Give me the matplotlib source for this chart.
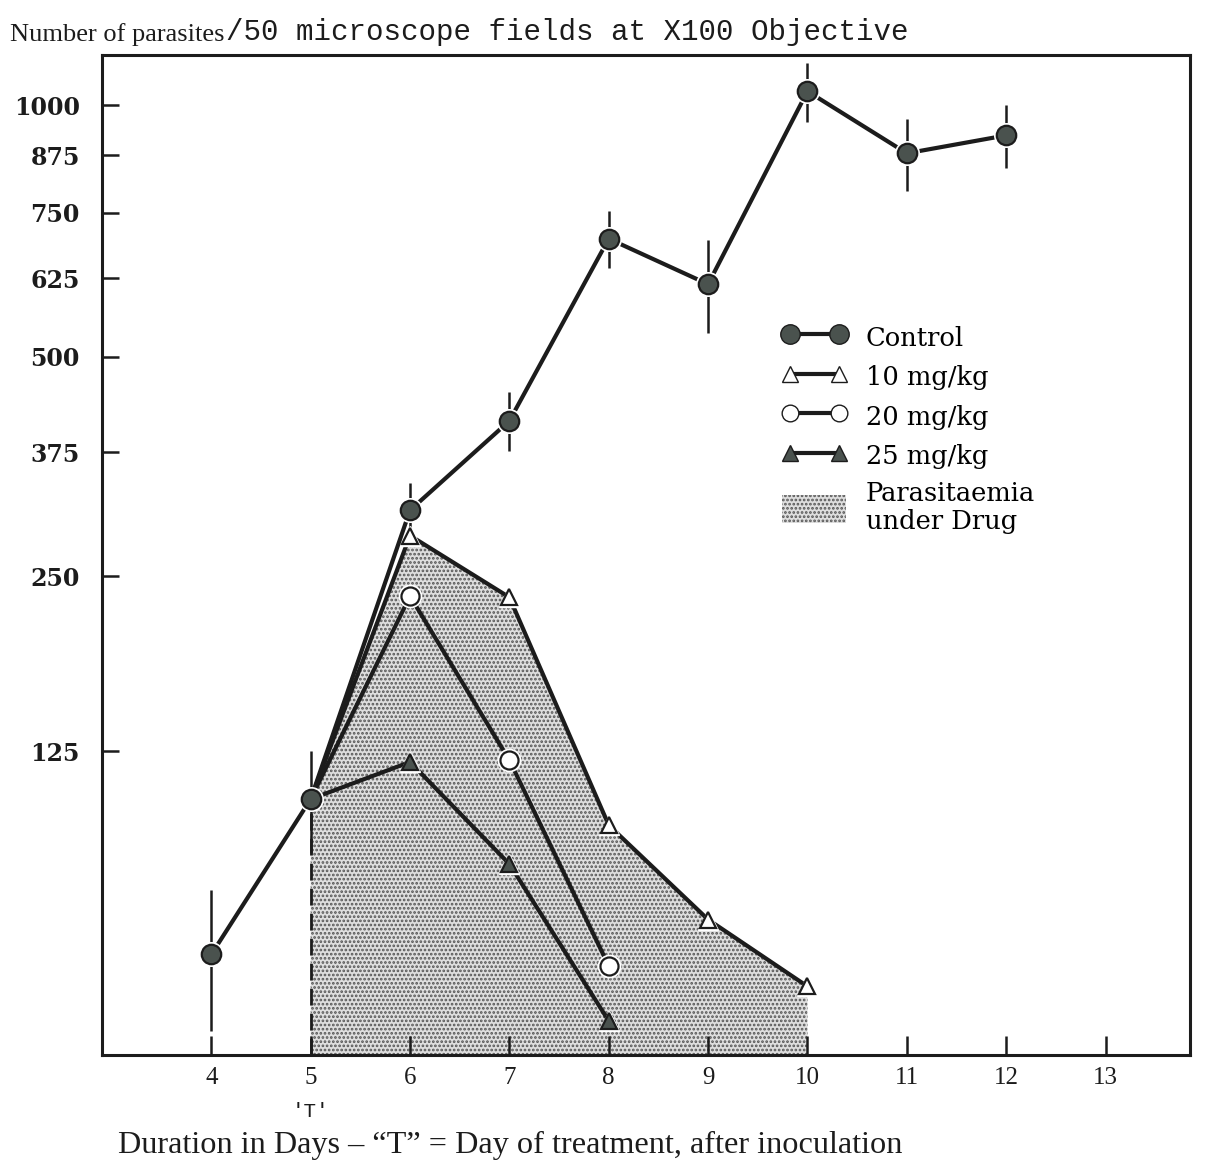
import numpy as np
import matplotlib
matplotlib.use("Agg")
import matplotlib.pyplot as plt
from matplotlib.lines import Line2D
from matplotlib.patches import Patch

# ---------------- data ----------------
days_control = [4, 5, 6, 7, 8, 9, 10, 11, 12]
control = [32, 99, 312, 413, 698, 615, 1037, 880, 923]
control_err = [25, 26, 29, 37, 55, 80, 80, 84, 76]

days_10 = [5, 6, 7, 8, 9, 10]
mg10 = [99, 287, 232, 86, 45, 21]

days_20 = [5, 6, 7, 8]
mg20 = [99, 233, 120, 28]

days_25 = [5, 6, 7, 8]
mg25 = [99, 119, 68, 10]

x_ticks = [4, 5, 6, 7, 8, 9, 10, 11, 12, 13]
y_ticks = [125, 250, 375, 500, 625, 750, 875, 1000]
treatment_day = 5

labels = ["Control", "10 mg/kg", "20 mg/kg", "25 mg/kg", "Parasitaemia\nunder Drug"]
title_a = "Number of parasites"
title_b = "/50 microscope fields at X100 Objective"
xlabel = "Duration in Days \u2013 \u201cT\u201d = Day of treatment, after inoculation"

# ---------------- styling ----------------
INK = "#1c1c1c"
DARK = "#4a524e"
SHADE_FACE = "#dedede"
SHADE_DOTS = "#555555"
plt.rcParams["hatch.linewidth"] = 1.3

fig = plt.figure(figsize=(12.13, 11.67), dpi=100)
ax = fig.add_axes([102 / 1213, 1 - 1055 / 1167, 1088 / 1213, 1000 / 1167])

off = 120.0
ax.set_yscale("function", functions=(lambda v: np.log(np.asarray(v) + off),
                                      lambda u: np.exp(u) - off))

# shaded area under the 10 mg/kg curve
ax.fill_between(days_10, 0, mg10, facecolor=SHADE_FACE, edgecolor=SHADE_DOTS,
                hatch="....", linewidth=0, zorder=1)
# dashed treatment line
ax.plot([treatment_day, treatment_day], [0, control[1]], color=INK, lw=2,
        ls=(0, (6, 3)), zorder=2)

# control error bars
ax.errorbar(days_control, control, yerr=control_err, fmt="none", ecolor=INK,
            elinewidth=1.8, capsize=0, zorder=3)

def series(x, y, marker, mfc, ms, first=0):
    ax.plot(x, y, color=INK, lw=3.0, zorder=4, solid_capstyle="butt")
    idx = list(range(first, len(x)))
    xs = [x[i] for i in idx]
    ys = [y[i] for i in idx]
    ax.plot(xs, ys, ls="none", marker=marker, ms=ms + 3, mfc="white",
            mec="white", zorder=5)
    ax.plot(xs, ys, ls="none", marker=marker, ms=ms, mfc=mfc, mec=INK,
            mew=1.6, zorder=6)

series(days_10, mg10, "^", "white", 12, first=1)
series(days_20, mg20, "o", "white", 13, first=1)
series(days_25, mg25, "^", DARK, 12, first=1)
series(days_control, control, "o", DARK, 14)

ax.set_xlim(2.9, 13.85)
ax.set_ylim(0, 1140)

ax.set_xticks(x_ticks)
ax.set_xticklabels([str(t) for t in x_ticks],
                   fontdict={"family": "Liberation Serif", "size": 18})
ax.set_yticks(y_ticks)
ax.set_yticklabels([str(t) for t in y_ticks],
                   fontdict={"family": "DejaVu Serif", "weight": "bold", "size": 17})
ax.yaxis.set_minor_locator(matplotlib.ticker.NullLocator())
ax.tick_params(axis="x", direction="in", length=14, width=1.8, pad=9, colors=INK)
ax.tick_params(axis="y", direction="in", length=12, width=1.8, pad=16, colors=INK)
for s in ax.spines.values():
    s.set_linewidth(2.2)
    s.set_color(INK)

# legend
handles = [
    Line2D([], [], color=INK, lw=3.0, marker="o", ms=14, mfc=DARK, mec=INK),
    Line2D([], [], color=INK, lw=3.0, marker="^", ms=12, mfc="white", mec=INK),
    Line2D([], [], color=INK, lw=3.0, marker="o", ms=12, mfc="white", mec=INK),
    Line2D([], [], color=INK, lw=3.0, marker="^", ms=12, mfc=DARK, mec=INK),
    Patch(facecolor=SHADE_FACE, edgecolor=SHADE_DOTS, hatch="....", linewidth=0),
]
leg = ax.legend(handles, labels, numpoints=2, loc="upper left",
                bbox_to_anchor=(0.625, 0.732), frameon=False,
                prop={"family": "DejaVu Serif", "size": 18.5},
                handlelength=2.5, handleheight=1.3, handletextpad=0.75,
                labelspacing=0.45, borderpad=0, borderaxespad=0)
for t in leg.get_texts():
    t.set_linespacing(1.15)

# title (mixed fonts)
t1 = fig.text(10 / 1213, 1 - 46 / 1167, title_a, family="Liberation Serif",
              size=19, color=INK, va="bottom", ha="left")
ax.annotate(title_b, xy=(1, 0), xycoords=t1, xytext=(1, 0),
            textcoords="offset points", family="Liberation Mono", size=21,
            color=INK, va="bottom", ha="left", annotation_clip=False)

# x-axis annotations
ax.annotate("'T'", xy=(treatment_day, 0), xycoords=("data", "axes fraction"),
            xytext=(0, -34), textcoords="offset points", ha="center", va="top",
            family="Liberation Mono", size=15, color=INK, annotation_clip=False)
fig.text(118 / 1213, 1 - 1160 / 1167, xlabel, family="Liberation Serif",
         size=23.2, color=INK, ha="left", va="bottom")

fig.savefig("out.png", dpi=100)
